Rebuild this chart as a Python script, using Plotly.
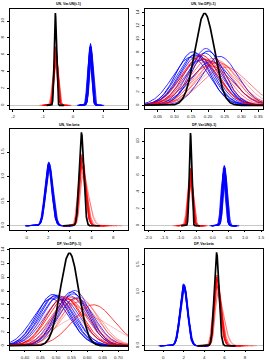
import numpy as np
import plotly.graph_objects as go

# ---------------- data ----------------
titles = ["UN, Var.UN(t-1)", "UN, Var.DP(t-1)", "UN, Var.beta",
          "DP, Var.UN(t-1)", "DP, Var.DP(t-1)", "DP, Var.beta"]

# black reference density: [centre, peak height]
p1_black = [-0.59, 10.95]
p2_black = [0.190, 13.9]
p3_black = [5.06, 1.89]
p4_black = [-0.69, 11.0]
p5_black = [0.543, 13.55]
p6_black = [5.22, 1.72]

# red / blue densities: centres, peak heights (and right/left skew ratio)
p1_red_center = [-0.58, -0.57, -0.59, -0.56, -0.60, -0.58, -0.55, -0.61, -0.57, -0.59, -0.58, -0.56]
p1_red_peak = [6.96, 6.7, 6.5, 6.2, 6.0, 5.7, 5.4, 5.2, 6.8, 4.8, 6.4, 5.9]
p1_blue_center = [0.55, 0.57, 0.58, 0.60, 0.56, 0.59, 0.61, 0.54, 0.58, 0.62, 0.57, 0.60]
p1_blue_peak = [6.9, 7.1, 7.35, 7.0, 6.6, 6.8, 6.5, 6.3, 7.2, 6.2, 6.7, 6.9]

p2_red_center = [0.180, 0.175, 0.190, 0.200, 0.215, 0.225, 0.230, 0.240, 0.205, 0.170, 0.250, 0.220]
p2_red_peak = [7.6, 7.2, 7.0, 6.8, 7.1, 6.9, 6.5, 6.2, 6.0, 6.9, 5.8, 6.4]
p2_blue_center = [0.155, 0.165, 0.150, 0.170, 0.194, 0.200, 0.185, 0.235, 0.175, 0.160, 0.210, 0.190]
p2_blue_peak = [8.1, 7.8, 7.3, 7.5, 8.6, 8.2, 7.0, 7.4, 6.8, 7.6, 6.6, 7.9]

p3_red_center = [5.10, 5.05, 5.15, 5.00, 5.10, 5.20, 5.05, 5.15, 5.10, 5.00]
p3_red_peak = [1.45, 1.40, 1.35, 1.30, 1.20, 1.10, 1.25, 1.00, 1.38, 1.32]
p3_red_skew = [1.3, 1.4, 1.5, 1.3, 1.8, 2.0, 1.6, 2.4, 1.4, 1.5]
p3_blue_center = [2.05, 2.10, 2.00, 2.08, 2.12, 2.02, 2.06, 1.98, 2.10, 2.04]
p3_blue_peak = [1.30, 1.27, 1.25, 1.22, 1.20, 1.28, 1.18, 1.24, 1.15, 1.26]

p4_red_center = [-0.69, -0.68, -0.70, -0.67, -0.71, -0.69, -0.66, -0.72, -0.68, -0.70, -0.69, -0.67]
p4_red_peak = [6.8, 6.6, 6.4, 6.1, 5.9, 5.6, 5.3, 5.1, 6.7, 4.8, 6.3, 5.8]
p4_blue_center = [0.33, 0.35, 0.36, 0.38, 0.34, 0.37, 0.39, 0.32, 0.36, 0.40, 0.35, 0.37]
p4_blue_peak = [6.8, 7.0, 7.15, 6.9, 6.5, 6.7, 6.4, 6.2, 7.1, 6.1, 6.6, 6.8]

p5_red_center = [0.525, 0.530, 0.540, 0.550, 0.575, 0.580, 0.560, 0.515, 0.620, 0.590, 0.545, 0.570]
p5_red_peak = [7.2, 7.0, 6.8, 7.1, 7.1, 6.6, 6.9, 6.5, 6.0, 4.5, 6.2, 6.4]
p5_blue_center = [0.490, 0.500, 0.495, 0.505, 0.510, 0.550, 0.560, 0.555, 0.545, 0.565, 0.485, 0.520]
p5_blue_peak = [7.5, 7.4, 7.2, 7.0, 7.3, 7.9, 8.1, 7.6, 7.3, 7.0, 6.9, 6.8]

p6_red_center = [5.25, 5.20, 5.30, 5.15, 5.25, 5.35, 5.20, 5.30, 5.25, 5.15]
p6_red_peak = [1.31, 1.27, 1.22, 1.18, 1.10, 1.00, 1.15, 0.95, 1.25, 1.20]
p6_red_skew = [1.3, 1.4, 1.5, 1.3, 1.8, 2.0, 1.6, 2.4, 1.4, 1.5]
p6_blue_center = [2.00, 2.05, 1.98, 2.03, 2.08, 1.96, 2.02, 2.06, 1.99, 2.04]
p6_blue_peak = [1.15, 1.13, 1.12, 1.10, 1.08, 1.14, 1.06, 1.11, 1.05, 1.12]

# axis ticks
p1_xticks = [-2, -1, 0, 1]
p1_yticks = [0, 2, 4, 6, 8, 10]
p2_xticks = [0.05, 0.10, 0.15, 0.20, 0.25, 0.30, 0.35]
p2_yticks = [0, 2, 4, 6, 8, 10, 12, 14]
p3_xticks = [0, 2, 4, 6, 8]
p3_yticks = [0.0, 0.5, 1.0, 1.5]
p4_xticks = [-2.0, -1.5, -1.0, -0.5, 0.0, 0.5, 1.0, 1.5]
p4_yticks = [0, 2, 4, 6, 8, 10]
p5_xticks = [0.40, 0.45, 0.50, 0.55, 0.60, 0.65, 0.70]
p5_yticks = [0, 2, 4, 6, 8, 10, 12, 14]
p6_xticks = [0, 2, 4, 6, 8]
p6_yticks = [0.0, 0.5, 1.0, 1.5]

# ---------------- styles / layout ----------------
red_alpha = [1.0, 0.9, 0.75, 0.6, 0.5, 0.4, 0.65, 0.35, 0.85, 0.3, 0.55, 0.45]
blue_alpha = [1.0, 0.95, 0.9, 0.85, 0.8, 1.0, 0.75, 0.9, 0.7, 0.85, 0.95, 0.8]

x_ranges = [[-2.10, 1.83], [0.012, 0.364], [-1.54, 9.36],
            [-2.10, 1.56], [0.352, 0.731], [-1.79, 9.76]]
y_ranges = [[-0.44, 11.39], [-0.56, 14.5], [-0.076, 1.966],
            [-0.44, 11.44], [-0.54, 14.1], [-0.069, 1.79]]
x_dom = [[0.037, 0.474], [0.537, 0.974]]
y_dom = [[0.697, 0.974], [0.3625, 0.641], [0.029, 0.3075]]
title_y = [0.9875, 0.654, 0.321]

SQ2PI = np.sqrt(2 * np.pi)


def density(center, peak, skew=1.0, span=6.5, n=400):
    sl = 2.0 / (peak * SQ2PI * (1.0 + skew))
    sr = sl * skew
    x = np.linspace(center - span * sl, center + span * sr, n)
    s = np.where(x < center, sl, sr)
    return x, peak * np.exp(-0.5 * ((x - center) / s) ** 2)


panels = [
    (p1_black, p1_red_center, p1_red_peak, None, p1_blue_center, p1_blue_peak, p1_xticks, p1_yticks, None, None),
    (p2_black, p2_red_center, p2_red_peak, None, p2_blue_center, p2_blue_peak, p2_xticks, p2_yticks, ".2f", None),
    (p3_black, p3_red_center, p3_red_peak, p3_red_skew, p3_blue_center, p3_blue_peak, p3_xticks, p3_yticks, None, ".1f"),
    (p4_black, p4_red_center, p4_red_peak, None, p4_blue_center, p4_blue_peak, p4_xticks, p4_yticks, ".1f", None),
    (p5_black, p5_red_center, p5_red_peak, None, p5_blue_center, p5_blue_peak, p5_xticks, p5_yticks, ".2f", None),
    (p6_black, p6_red_center, p6_red_peak, p6_red_skew, p6_blue_center, p6_blue_peak, p6_xticks, p6_yticks, None, ".1f"),
]

fig = go.Figure()
FONT = "Liberation Sans, Arial, sans-serif"

for i, (blk, rc, rp, rs, bc, bp, xt, yt, xfmt, yfmt) in enumerate(panels):
    k = i + 1
    xa = "x" if k == 1 else f"x{k}"
    ya = "y" if k == 1 else f"y{k}"
    for j, (c, p) in enumerate(zip(bc, bp)):
        x, y = density(c, p)
        fig.add_trace(go.Scatter(x=x, y=y, mode="lines", xaxis=xa, yaxis=ya,
                                 line=dict(color=f"rgba(0,0,255,{blue_alpha[j % len(blue_alpha)]})", width=0.9),
                                 hoverinfo="skip", showlegend=False))
    for j, (c, p) in enumerate(zip(rc, rp)):
        sk = rs[j] if rs is not None else 1.0
        x, y = density(c, p, sk)
        fig.add_trace(go.Scatter(x=x, y=y, mode="lines", xaxis=xa, yaxis=ya,
                                 line=dict(color=f"rgba(255,0,0,{red_alpha[j % len(red_alpha)]})", width=0.9),
                                 hoverinfo="skip", showlegend=False))
    x, y = density(blk[0], blk[1], span=8)
    fig.add_trace(go.Scatter(x=x, y=y, mode="lines", xaxis=xa, yaxis=ya,
                             line=dict(color="black", width=1.7),
                             hoverinfo="skip", showlegend=False))

    row, col = i // 2, i % 2
    xaxis = dict(domain=x_dom[col], range=x_ranges[i], anchor=ya, automargin=False,
                 tickvals=xt, ticktext=[(format(v, xfmt) if xfmt else f"{v:g}") for v in xt],
                 ticks="outside", ticklen=2, tickwidth=0.6, tickcolor="black",
                 showline=True, mirror=True, linecolor="black", linewidth=0.8,
                 showgrid=False, zeroline=False, ticklabelstandoff=1,
                 tickfont=dict(size=4.4, color="#222", family=FONT))
    yaxis = dict(domain=y_dom[row], range=y_ranges[i], anchor=xa, automargin=False,
                 tickvals=yt, ticktext=[(format(v, yfmt) if yfmt else f"{v:g}") for v in yt],
                 ticks="outside", ticklen=2, tickwidth=0.6, tickcolor="black",
                 showline=True, mirror=True, linecolor="black", linewidth=0.8,
                 showgrid=False, zeroline=True, zerolinecolor="#c8c8c8", zerolinewidth=0.8,
                 tickangle=-90, ticklabelstandoff=1,
                 tickfont=dict(size=4.4, color="#222", family=FONT))
    fig.update_layout(**{("xaxis" if k == 1 else f"xaxis{k}"): xaxis,
                         ("yaxis" if k == 1 else f"yaxis{k}"): yaxis})
    fig.add_annotation(text=f"<b>{titles[i]}</b>", xref="paper", yref="paper",
                       x=(x_dom[col][0] + x_dom[col][1]) / 2, y=title_y[row],
                       xanchor="center", yanchor="middle", showarrow=False,
                       font=dict(size=3.5, color="black", family=FONT))

fig.update_layout(template="none", width=270, height=360, margin=dict(l=0, r=0, t=0, b=0, pad=0),
                  paper_bgcolor="white", plot_bgcolor="white", showlegend=False)

fig.write_html("out.html", config={"displayModeBar": False},
               post_script="document.body.style.margin='0';document.body.style.padding='0';")
